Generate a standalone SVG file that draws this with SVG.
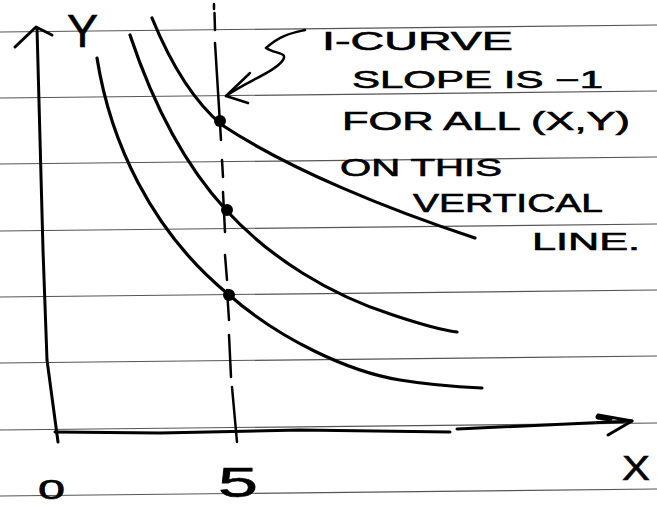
<svg xmlns="http://www.w3.org/2000/svg" width="657" height="507" viewBox="0 0 657 507">
<style>
.rule{stroke:#555;stroke-width:1.2;fill:none}
.ink{stroke:#000;fill:none;stroke-linecap:round;stroke-linejoin:round}
.curve{stroke-width:3.2}
.axis{stroke-width:3}
.dash{stroke-width:2.5}
.hw{font-family:"Liberation Sans","DejaVu Sans",sans-serif;fill:#000;stroke:#000;stroke-width:0.6}
</style>
<rect width="657" height="507" fill="#fff"/>
<g id="paper-lines">
<line class="rule" x1="0" y1="32" x2="657" y2="25"/>
<line class="rule" x1="0" y1="98" x2="657" y2="91"/>
<line class="rule" x1="0" y1="164" x2="657" y2="157"/>
<line class="rule" x1="0" y1="231" x2="657" y2="224"/>
<line class="rule" x1="0" y1="297" x2="657" y2="290"/>
<line class="rule" x1="0" y1="363" x2="657" y2="356"/>
<line class="rule" x1="0" y1="430" x2="657" y2="423"/>
<line class="rule" x1="0" y1="496" x2="657" y2="489"/>
</g>
<g id="y-axis">
<path class="ink axis" d="M37,28 L43,250 L47,360 L58,442"/>
<path class="ink axis" d="M15,47 L36,27 L52,35"/>
<text class="hw" x="67" y="47" font-size="46" textLength="31" lengthAdjust="spacingAndGlyphs">Y</text>
</g>
<g id="x-axis">
<path class="ink axis" d="M55,432 L160,433 L300,430 L450,432"/>
<path class="ink axis" d="M457,429 L632,421"/>
<path class="ink axis" d="M598,415 L632,421 L608,435"/>
<path class="ink" stroke-width="5" d="M598,417 L610,419"/>
<text class="hw" x="622" y="480" font-size="35" textLength="28" lengthAdjust="spacingAndGlyphs">X</text>
<text class="hw" x="38" y="499" font-size="27" textLength="27" lengthAdjust="spacingAndGlyphs">0</text>
<text class="hw" x="218" y="497" font-size="42" textLength="40" lengthAdjust="spacingAndGlyphs">5</text>
</g>
<g id="vertical-line">
<path class="ink dash" d="M214,4 L214,9 M214.5,13 L215,30 M215,43 L221,140 M222,160 L223,177 M223,192 L225,232 M225,255 L227,280 M227,290 L229,320 M229,335 L231,377 M232,387 L237,442"/>
</g>
<g id="i-curve-1">
<path class="ink curve" d="M152,18 C170,62 192,100 222,125 C290,170 390,210 475,238"/>
<circle cx="220" cy="121" r="6"/>
</g>
<g id="i-curve-2">
<path class="ink curve" d="M130,35 C150,95 180,160 226,210 C270,258 330,295 393,315 C420,324 440,330 457,332"/>
<circle cx="227" cy="210" r="6"/>
</g>
<g id="i-curve-3">
<path class="ink curve" d="M97,58 C110,140 150,230 228,294 C280,340 350,372 400,380 C430,385 460,387 482,388"/>
<circle cx="229" cy="295" r="6"/>
</g>
<g id="connectors">
<path class="ink" stroke-width="2.5" d="M305,30 C292,33 280,35 266,48 C275,54 288,52 283,60 C275,72 245,82 226,96"/>
<path class="ink" stroke-width="2.5" d="M250,73 L226,96 L248,103"/>
</g>
<g id="note">
<text class="hw" x="322" y="50" font-size="25" textLength="191" lengthAdjust="spacingAndGlyphs">I-CURVE</text>
<text class="hw" x="352" y="88" font-size="24" textLength="251" lengthAdjust="spacingAndGlyphs">SLOPE IS −1</text>
<text class="hw" x="342" y="130" font-size="25" textLength="288" lengthAdjust="spacingAndGlyphs">FOR ALL (X,Y)</text>
<text class="hw" x="340" y="176" font-size="24" textLength="162" lengthAdjust="spacingAndGlyphs">ON THIS</text>
<text class="hw" x="413" y="212" font-size="25" textLength="190" lengthAdjust="spacingAndGlyphs">VERTICAL</text>
<text class="hw" x="532" y="250" font-size="24" textLength="108" lengthAdjust="spacingAndGlyphs">LINE.</text>
</g>
</svg>
